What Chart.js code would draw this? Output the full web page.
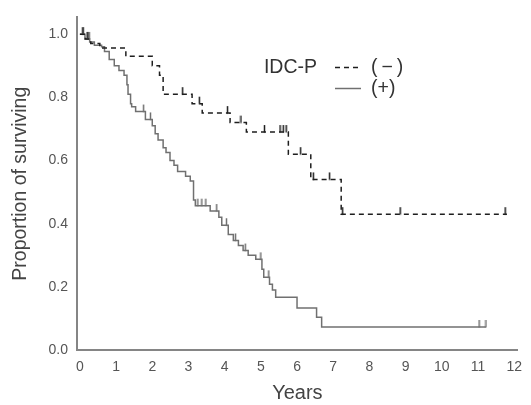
<!DOCTYPE html>
<html>
<head>
<meta charset="utf-8">
<script src="https://cdn.jsdelivr.net/npm/chart.js@4.4.1/dist/chart.umd.min.js"></script>
<style>
  html, body { margin: 0; padding: 0; background: #fff; }
  #wrap { width: 531px; height: 405px; }
</style>
</head>
<body>
<div id="wrap"><canvas id="myChart" width="531" height="405"></canvas></div>
<script>
// x / y tick labels
const xTicks = [0, 1, 2, 3, 4, 5, 6, 7, 8, 9, 10, 11, 12];
const yTicks = [0, 0.2, 0.4, 0.6, 0.8, 1.0];

// IDC-P (-) : step times and survival
const negTimes = [0, 0.15, 0.3, 0.55, 1.27, 2.0, 2.2, 2.3, 3.1, 3.38, 4.15, 4.6, 5.76, 6.38, 7.22, 11.8];
const negSurv  = [1.0, 0.985, 0.97, 0.956, 0.93, 0.90, 0.87, 0.81, 0.78, 0.75, 0.72, 0.69, 0.62, 0.54, 0.43, 0.43];
const negCensor = [0.08, 0.22, 2.84, 3.3, 4.08, 4.45, 5.1, 5.53, 5.62, 5.7, 6.1, 6.45, 6.9, 7.26, 8.85, 11.75];

// IDC-P (+)
const posTimes = [0, 0.14, 0.27, 0.4, 0.6, 0.68, 0.81, 0.95, 1.08, 1.22, 1.3, 1.33, 1.4, 1.43, 1.54, 1.81,
  2.0, 2.08, 2.16, 2.3, 2.38, 2.49, 2.6, 2.7, 2.92, 3.05, 3.14, 3.19, 3.6, 3.84, 3.92, 4.1, 4.24, 4.38,
  4.51, 4.65, 4.86, 5.03, 5.08, 5.24, 5.32, 5.41, 6.0, 6.54, 6.68, 11.22];
const posSurv = [1.0, 0.985, 0.975, 0.965, 0.96, 0.945, 0.92, 0.90, 0.885, 0.87, 0.84, 0.81, 0.78, 0.77, 0.755, 0.73,
  0.71, 0.685, 0.665, 0.64, 0.625, 0.60, 0.585, 0.565, 0.55, 0.535, 0.475, 0.457, 0.44, 0.42, 0.395, 0.366, 0.347, 0.331,
  0.315, 0.30, 0.287, 0.256, 0.23, 0.208, 0.19, 0.167, 0.133, 0.104, 0.073, 0.073];
const posCensor = [0.1, 0.2, 0.26, 1.76, 1.95, 3.26, 3.37, 3.48, 3.78, 4.05, 4.3, 4.57, 5.0, 5.22, 11.03, 11.22];

const FONT = "'Liberation Sans', Arial, sans-serif";

// survival value at time t (step function)
function survAt(times, surv, t) {
  let v = surv[0];
  times.forEach((tt, i) => { if (tt <= t) v = surv[i]; });
  return v;
}

// little upward censor tick
function censorMark(color) {
  const c = document.createElement('canvas');
  c.width = 3; c.height = 16;
  const g = c.getContext('2d');
  g.fillStyle = color;
  g.fillRect(0.75, 1, 1.5, 7.5);
  return c;
}

const negColor = '#1e1e1e';
const posColor = '#707070';

// legend drawn inside the plot
const legendPlugin = {
  id: 'kmLegend',
  afterDraw(chart) {
    const ctx = chart.ctx;
    ctx.save();
    ctx.font = "19.5px " + FONT;
    ctx.fillStyle = '#333';
    ctx.textBaseline = 'middle';
    ctx.textAlign = 'right';
    ctx.fillText('IDC-P', 317, 68);
    ctx.textAlign = 'left';
    ctx.fillText('(\u2009\u2212\u2009)', 371, 68);
    ctx.fillText('(+)', 371, 89);
    ctx.lineWidth = 1.5;
    ctx.strokeStyle = negColor;
    ctx.setLineDash([5, 4]);
    ctx.beginPath(); ctx.moveTo(335, 67.5); ctx.lineTo(362, 67.5); ctx.stroke();
    ctx.setLineDash([]);
    ctx.strokeStyle = posColor;
    ctx.beginPath(); ctx.moveTo(335, 88.5); ctx.lineTo(361, 88.5); ctx.stroke();
    ctx.restore();
  }
};

const dataConfig = {
  type: 'line',
  data: {
    datasets: [
      {
        label: 'IDC-P (-)',
        data: negTimes.map((t, i) => ({ x: t, y: negSurv[i] })),
        stepped: true,
        borderColor: negColor,
        borderWidth: 1.5,
        borderDash: [5, 4],
        pointRadius: 0,
        fill: false
      },
      {
        label: 'IDC-P (+)',
        data: posTimes.map((t, i) => ({ x: t, y: posSurv[i] })),
        stepped: true,
        borderColor: posColor,
        borderWidth: 1.5,
        pointRadius: 0,
        fill: false
      },
      {
        type: 'scatter',
        label: 'censored (-)',
        data: negCensor.map(t => ({ x: t, y: survAt(negTimes, negSurv, t) })),
        pointStyle: censorMark(negColor),
        pointRadius: 3,
        showLine: false
      },
      {
        type: 'scatter',
        label: 'censored (+)',
        data: posCensor.map(t => ({ x: t, y: survAt(posTimes, posSurv, t) })),
        pointStyle: censorMark(posColor),
        pointRadius: 3,
        showLine: false
      }
    ]
  },
  options: {
    responsive: false,
    animation: false,
    events: [],
    layout: { padding: { top: 13, right: 4, left: 0, bottom: 0 } },
    plugins: { legend: { display: false }, tooltip: { enabled: false } },
    scales: {
      x: {
        type: 'linear',
        min: -0.08,
        max: 12.1,
        grid: { display: false, drawTicks: false },
        border: { display: true, color: '#858585', width: 2 },
        afterBuildTicks: axis => { axis.ticks = xTicks.map(v => ({ value: v })); },
        afterFit: axis => { axis.height = 55; },
        ticks: {
          color: '#555', padding: 9, maxRotation: 0,
          font: { family: FONT, size: 14 },
          callback: v => String(v)
        },
        title: {
          display: true, text: 'Years', color: '#444',
          font: { family: FONT, size: 20 },
          padding: { top: 0, bottom: 0 }
        }
      },
      y: {
        type: 'linear',
        min: 0,
        max: 1.053,
        grid: { display: false, drawTicks: false },
        border: { display: true, color: '#858585', width: 2 },
        afterBuildTicks: axis => { axis.ticks = yTicks.map(v => ({ value: v })); },
        afterFit: axis => { axis.width = 77; },
        ticks: {
          color: '#555', padding: 9,
          font: { family: FONT, size: 14 },
          callback: v => Number(v).toFixed(1)
        },
        title: {
          display: true, text: 'Proportion of surviving', color: '#444',
          font: { family: FONT, size: 19.5 },
          padding: { top: 9, bottom: 9 }
        }
      }
    }
  },
  plugins: [legendPlugin]
};

const ctx = document.getElementById('myChart');
if (ctx) {
  new Chart(ctx, dataConfig);
} else {
  console.error("Chart container element not found.");
}
</script>
</body>
</html>
